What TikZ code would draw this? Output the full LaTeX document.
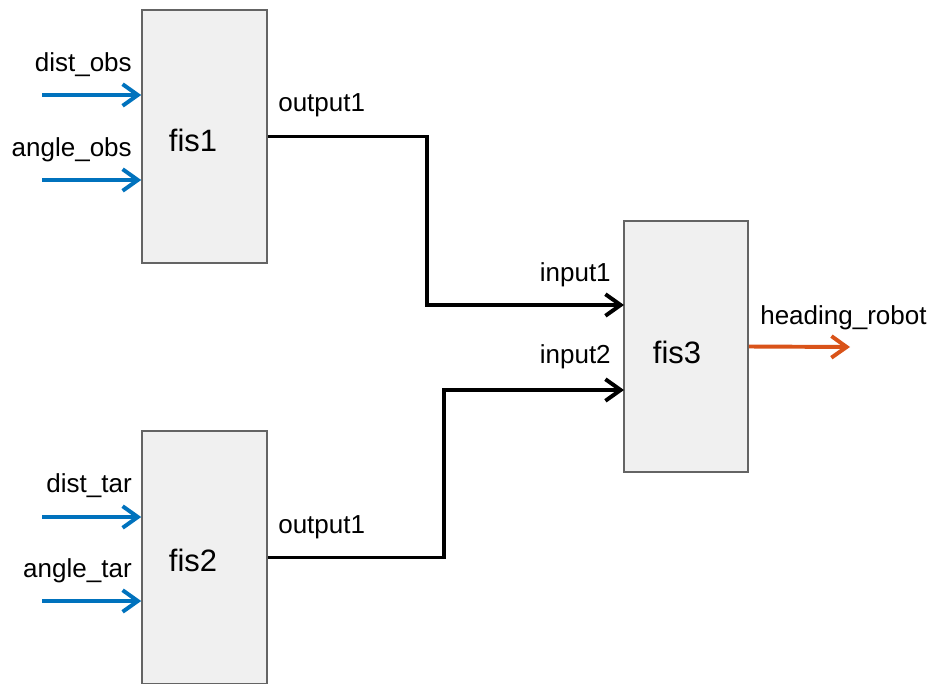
\documentclass[tikz,border=0pt]{standalone}
\usepackage{fontspec}
\setmainfont{Liberation Sans}
\usetikzlibrary{arrows.meta}
\definecolor{matblue}{RGB}{0,114,189}
\definecolor{matorange}{RGB}{217,83,25}
\definecolor{boxfill}{RGB}{240,240,240}
\definecolor{boxline}{RGB}{100,100,100}
\tikzset{
  fisbox/.style={draw=boxline,fill=boxfill,line width=1.1pt,inner sep=0pt,
    minimum width=3.125cm,minimum height=6.3cm},
  fislabel/.style={font=\fontsize{22}{25}\selectfont},
  sig/.style={font=\fontsize{18.5}{21}\selectfont,inner sep=0pt},
  inarrow/.style={draw=matblue,line width=2.8pt,-{Straight Barb[length=3.8mm,width=5.4mm]}},
  midarrow/.style={draw=black,line width=2.8pt,-{Straight Barb[length=3.8mm,width=5.4mm]}},
  outarrow/.style={draw=matorange,line width=2.8pt,-{Straight Barb[length=3.8mm,width=5.4mm]}}
}
\begin{document}
\begin{tikzpicture}[x=0.025cm,y=-0.025cm]
\useasboundingbox (0,0) rectangle (932,683);
% blocks
\node[fisbox,minimum width=3.125cm,minimum height=6.325cm] (fis1) at (204.5,136.5) {};
\node[fisbox,minimum width=3.125cm,minimum height=6.325cm] (fis2) at (204.5,557.5) {};
\node[fisbox,minimum width=3.1cm,minimum height=6.275cm] (fis3) at (686,346.5) {};
\node[fislabel] (fis1lbl) at (193,140) {fis1};
\node[fislabel] (fis2lbl) at (193,560) {fis2};
\node[fislabel] (fis3lbl) at (677,352) {fis3};
% free ends
\coordinate (dobs) at (42,95);
\coordinate (aobs) at (42,180);
\coordinate (dtar) at (42,517);
\coordinate (atar) at (42,601);
\coordinate (bend1) at (427,305);
\coordinate (bend2) at (444,390);
\coordinate (in1) at (624,305);
\coordinate (in2) at (624,390);
\coordinate (head) at (850,347);
% inputs
\draw[inarrow] (dobs) -- (dobs -| fis1.west);
\draw[inarrow] (aobs) -- (aobs -| fis1.west);
\draw[inarrow] (dtar) -- (dtar -| fis2.west);
\draw[inarrow] (atar) -- (atar -| fis2.west);
% links
\draw[midarrow] (fis1.east) -| (bend1) -- (in1);
\draw[midarrow] (fis2.east) -| (bend2) -- (in2);
\draw[outarrow] (fis3.east) -- (head);
% texts
\node[sig,anchor=east] (ldobs) at (132,65) {dist\_obs};
\node[sig,anchor=east] (laobs) at (132,150) {angle\_obs};
\node[sig,anchor=east] (ldtar) at (132,486) {dist\_tar};
\node[sig,anchor=east] (latar) at (132,571) {angle\_tar};
\node[sig,anchor=west] (lout1) at (278,105) {output1};
\node[sig,anchor=west] (lout2) at (278,527) {output1};
\node[sig,anchor=east] (lin1) at (611,275) {input1};
\node[sig,anchor=east] (lin2) at (611,357) {input2};
\node[sig,anchor=west] (lhead) at (760,318) {heading\_robot};
\end{tikzpicture}
\end{document}
